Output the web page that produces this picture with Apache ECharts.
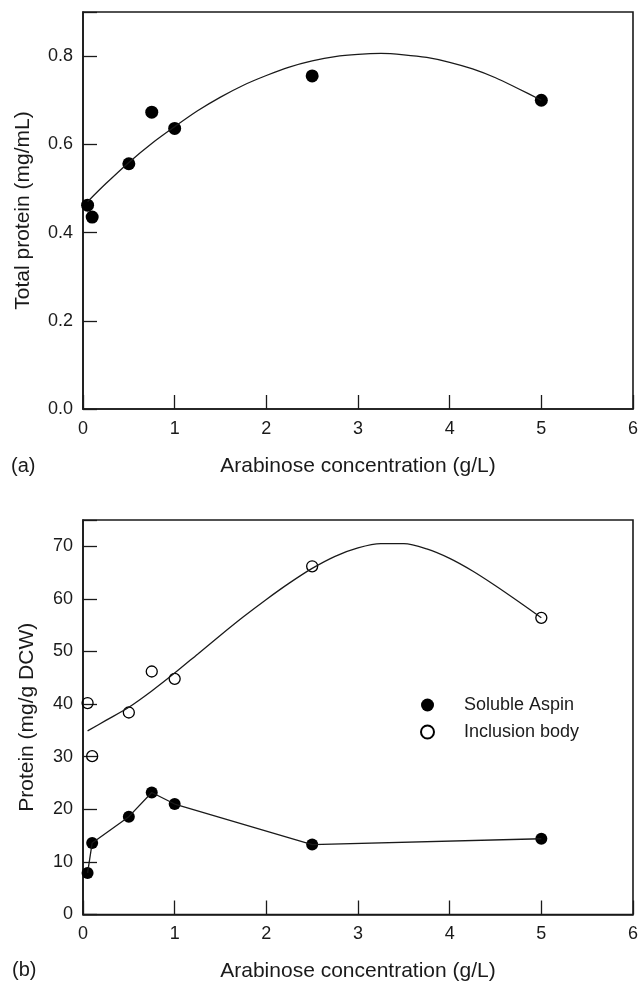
<!DOCTYPE html>
<html>
<head>
<meta charset="utf-8">
<script src="https://cdn.jsdelivr.net/npm/echarts@6/dist/echarts.min.js"></script>
<style>
  html, body { margin: 0; padding: 0; background: #fff; }
  #chart { width: 641px; height: 983px; }
</style>
</head>
<body>
<div id="chart"></div>
<script>
// arabinose concentrations (g/L)
const conc = [0.05, 0.1, 0.5, 0.75, 1, 2.5, 5]
// (a) total protein, mg/mL
const totalProtein = [0.462, 0.435, 0.556, 0.673, 0.636, 0.755, 0.7]
// fitted curves, every 0.25 g/L
const fitConc = [0.05, 0.25, 0.5, 0.75, 1, 1.25, 1.5, 1.75, 2, 2.25, 2.5,
  2.75, 3, 3.25, 3.5, 3.75, 4, 4.25, 4.5, 4.75, 5]
const totalFit = [0.47, 0.511, 0.559, 0.602, 0.64, 0.676, 0.707, 0.734, 0.756, 0.775, 0.789,
  0.799, 0.804, 0.806, 0.803, 0.797, 0.786, 0.771, 0.751, 0.726, 0.7]
// (b) protein, mg/g DCW
const soluble = [7.9, 13.6, 18.6, 23.2, 21.0, 13.3, 14.4]
const inclusion = [40.2, 30.1, 38.4, 46.2, 44.8, 66.2, 56.4]
const inclusionFit = [34.9, 36.9, 39.4, 42.5, 45.9, 49.5, 53.1, 56.6, 59.9, 63.0, 65.8,
  68.1, 69.7, 70.5, 70.5, 69.5, 67.7, 65.3, 62.5, 59.5, 56.4]

const xTicks = { min: 0, max: 6, interval: 1 }
const yTicksA = { min: 0, max: 0.9, interval: 0.2 }
const yTicksB = { min: 0, max: 75, interval: 10 }

const ink = '#1a1a1a'
const font = 'Liberation Sans, Arial, sans-serif'

const pairs = (xs, ys) => xs.map((x, i) => [x, ys[i]])

function xAxis(gridIndex) {
  return {
    type: 'value',
    gridIndex,
    ...xTicks,
    name: 'Arabinose concentration (g/L)',
    nameLocation: 'middle',
    nameGap: 57,
    nameTextStyle: { fontSize: 21, color: ink, fontFamily: font, verticalAlign: 'middle' },
    axisLine: { show: true, lineStyle: { color: ink, width: 1.6 } },
    axisTick: { show: true, inside: true, length: 14, lineStyle: { color: ink, width: 1.3 } },
    axisLabel: { fontSize: 18, color: ink, fontFamily: font, margin: 11 },
    splitLine: { show: false },
  }
}

function yAxis(gridIndex, ticks, name, gap, fmt) {
  return {
    type: 'value',
    gridIndex,
    ...ticks,
    name,
    nameLocation: 'middle',
    nameGap: gap,
    nameTextStyle: { fontSize: 21, color: ink, fontFamily: font, verticalAlign: 'middle' },
    axisLine: { show: true, lineStyle: { color: ink, width: 1.6 } },
    axisTick: { show: true, inside: true, length: 14, lineStyle: { color: ink, width: 1.3 } },
    axisLabel: { fontSize: 18, color: ink, fontFamily: font, margin: 10, formatter: fmt },
    splitLine: { show: false },
  }
}

const chart = echarts.init(document.getElementById('chart'))
chart.setOption({
  backgroundColor: '#fff',
  animation: false,
  textStyle: { fontFamily: font },
  title: [
    { text: '(a)', left: 11, top: 456, padding: 0, textStyle: { fontSize: 20, fontWeight: 'normal', color: ink } },
    { text: '(b)', left: 12, top: 960, padding: 0, textStyle: { fontSize: 20, fontWeight: 'normal', color: ink } },
  ],
  grid: [
    { left: 83, right: 8, top: 12, height: 397, show: true, borderColor: ink, borderWidth: 1.6 },
    { left: 83, right: 8, top: 520, height: 395, show: true, borderColor: ink, borderWidth: 1.6 },
  ],
  xAxis: [xAxis(0), xAxis(1)],
  yAxis: [
    yAxis(0, yTicksA, 'Total protein (mg/mL)', 60, (v) => (v > 0.85 ? '' : v.toFixed(1))),
    yAxis(1, yTicksB, 'Protein (mg/g DCW)', 56, (v) => (v > 72 ? '' : String(v))),
  ],
  legend: {
    orient: 'vertical',
    left: 420,
    top: 696,
    padding: 0,
    itemWidth: 13,
    itemHeight: 13,
    itemGap: 9,
    textStyle: { fontSize: 18, color: ink, fontFamily: font, padding: [0, 0, 0, 25] },
    data: ['Soluble Aspin', 'Inclusion body'],
  },
  series: [
    {
      type: 'line',
      xAxisIndex: 0,
      yAxisIndex: 0,
      data: pairs(fitConc, totalFit),
      smooth: 0.3,
      symbol: 'none',
      lineStyle: { color: ink, width: 1.3 },
    },
    {
      type: 'scatter',
      xAxisIndex: 0,
      yAxisIndex: 0,
      data: pairs(conc, totalProtein),
      symbolSize: 13,
      itemStyle: { color: '#000', opacity: 1 },
    },
    {
      type: 'line',
      xAxisIndex: 1,
      yAxisIndex: 1,
      data: pairs(fitConc, inclusionFit),
      smooth: 0.3,
      symbol: 'none',
      lineStyle: { color: ink, width: 1.3 },
    },
    {
      type: 'line',
      xAxisIndex: 1,
      yAxisIndex: 1,
      data: pairs(conc, soluble),
      symbol: 'none',
      lineStyle: { color: ink, width: 1.3 },
    },
    {
      name: 'Soluble Aspin',
      type: 'scatter',
      xAxisIndex: 1,
      yAxisIndex: 1,
      data: pairs(conc, soluble),
      symbolSize: 12,
      itemStyle: { color: '#000', opacity: 1 },
    },
    {
      name: 'Inclusion body',
      type: 'scatter',
      xAxisIndex: 1,
      yAxisIndex: 1,
      data: pairs(conc, inclusion),
      symbolSize: 11,
      itemStyle: { color: 'rgba(255,255,255,0)', borderColor: '#000', borderWidth: 1.3, opacity: 1 },
    },
  ],
})
</script>
</body>
</html>
